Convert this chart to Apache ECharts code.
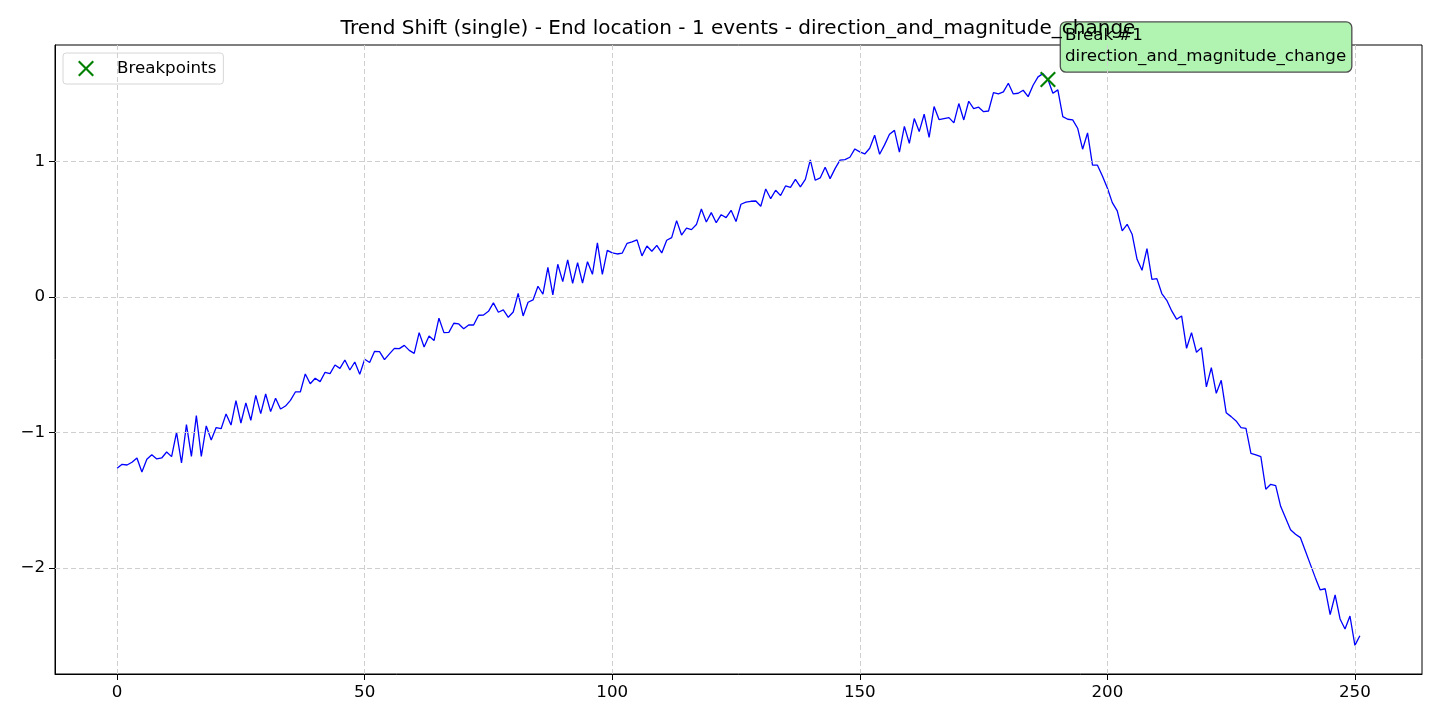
<!DOCTYPE html>
<html lang="en">
<head>
    <meta charset="UTF-8">
    <title>Trend Shift (single)</title>
    <script src="https://cdn.jsdelivr.net/npm/echarts/dist/echarts.min.js"></script>
    <style>
        html, body { margin: 0; padding: 0; background: #fff; }
        #chart { width: 1440px; height: 720px; }
    </style>
</head>
<body>
    <div id="chart"></div>

    <script type="text/javascript">
        // values, index = position on x axis
        var values = [
            -1.264, -1.235, -1.24, -1.22, -1.188, -1.292, -1.198, -1.164, -1.195, -1.188,
            -1.144, -1.178, -0.999, -1.225, -0.942, -1.176, -0.876, -1.176, -0.952, -1.055,
            -0.964, -0.972, -0.863, -0.945, -0.765, -0.93, -0.782, -0.91, -0.726, -0.861,
            -0.716, -0.846, -0.748, -0.827, -0.805, -0.763, -0.701, -0.701, -0.568, -0.64,
            -0.6, -0.625, -0.556, -0.566, -0.502, -0.527, -0.465, -0.539, -0.48, -0.571,
            -0.46, -0.484, -0.401, -0.403, -0.462, -0.42, -0.379, -0.381, -0.357, -0.394,
            -0.416, -0.263, -0.369, -0.288, -0.322, -0.157, -0.263, -0.261, -0.194, -0.199,
            -0.234, -0.207, -0.207, -0.135, -0.133, -0.106, -0.044, -0.113, -0.096, -0.15,
            -0.111, 0.027, -0.14, -0.039, -0.022, 0.079, 0.02, 0.219, 0.015, 0.241,
            0.113, 0.273, 0.101, 0.253, 0.103, 0.26, 0.167, 0.399, 0.167, 0.344,
            0.325, 0.317, 0.323, 0.396, 0.406, 0.421, 0.303, 0.376, 0.337, 0.381,
            0.325, 0.418, 0.438, 0.563, 0.457, 0.507, 0.497, 0.534, 0.649, 0.553,
            0.622, 0.548, 0.607, 0.585, 0.639, 0.556, 0.684, 0.699, 0.706, 0.708,
            0.669, 0.797, 0.725, 0.787, 0.748, 0.819, 0.809, 0.868, 0.812, 0.868,
            1.011, 0.861, 0.878, 0.957, 0.873, 0.947, 1.009, 1.013, 1.031, 1.092,
            1.07, 1.055, 1.097, 1.193, 1.053, 1.122, 1.2, 1.229, 1.069, 1.259,
            1.134, 1.316, 1.22, 1.348, 1.178, 1.405, 1.309, 1.316, 1.323, 1.284,
            1.427, 1.306, 1.444, 1.39, 1.4, 1.367, 1.372, 1.508, 1.498, 1.513,
            1.577, 1.498, 1.503, 1.525, 1.478, 1.562, 1.624, 1.648, 1.604, 1.503,
            1.528, 1.331, 1.311, 1.306, 1.245, 1.09, 1.21, 0.972, 0.972, 0.893,
            0.804, 0.696, 0.635, 0.487, 0.536, 0.463, 0.278, 0.197, 0.357, 0.13,
            0.135, 0.025, -0.025, -0.103, -0.165, -0.14, -0.379, -0.263, -0.408, -0.374,
            -0.664, -0.522, -0.711, -0.615, -0.854, -0.883, -0.915, -0.964, -0.969, -1.154,
            -1.166, -1.178, -1.419, -1.382, -1.392, -1.545, -1.631, -1.717, -1.751, -1.776,
            -1.875, -1.973, -2.071, -2.162, -2.153, -2.344, -2.199, -2.376, -2.45, -2.354,
            -2.571, -2.5
        ];
        var breakIdx = [188];
        var breakNames = ['Break #1'];
        var changeType = 'direction_and_magnitude_change';
        var xTicks = [0, 50, 100, 150, 200, 250];
        var yTicks = [-2, -1, 0, 1];

        var chart = echarts.init(document.getElementById('chart'));

        // matplotlib style 5% margins
        var lo = Math.min.apply(null, values), hi = Math.max.apply(null, values);
        var yPad = (hi - lo) * 0.05;
        var xLast = values.length - 1;

        var xPath = 'path://M0,1.5 L1.5,0 L8,6.5 L14.5,0 L16,1.5 L9.5,8 L16,14.5 L14.5,16 L8,9.5 L1.5,16 L0,14.5 L6.5,8 Z';
        var font = 'DejaVu Sans';
        var fs = 16.7;

        var gridLines = xTicks.map(function (v) { return { xAxis: v }; })
            .concat(yTicks.map(function (v) { return { yAxis: v }; }));

        var option = {
            animation: false,
            textStyle: { fontFamily: font },
            title: {
                text: 'Trend Shift (single) - End location - ' + breakIdx.length + ' events - ' + changeType,
                left: 733,
                textAlign: 'center',
                top: 14,
                z: 10,
                textStyle: { fontFamily: font, fontSize: 20, fontWeight: 'normal', color: '#000' }
            },
            legend: {
                data: [{ name: 'Breakpoints', icon: xPath }],
                left: 63,
                top: 53,
                orient: 'vertical',
                itemWidth: 16,
                itemHeight: 16,
                padding: [7, 7, 7, 15],
                borderColor: '#d6d6d6',
                borderWidth: 1,
                borderRadius: 3,
                textStyle: { fontFamily: font, fontSize: fs, color: '#000', padding: [0, 0, 0, 18] }
            },
            grid: {
                left: 55, right: 18, top: 45, bottom: 46,
                show: true, borderColor: '#000', borderWidth: 1
            },
            xAxis: {
                type: 'value',
                min: -0.05 * xLast,
                max: xLast * 1.05,
                axisLine: { show: true, onZero: false, lineStyle: { color: '#000', width: 1 } },
                axisTick: { show: true, customValues: xTicks, length: 6, lineStyle: { color: '#000' } },
                axisLabel: { customValues: xTicks, color: '#000', fontSize: fs, margin: 10, fontFamily: font },
                splitLine: { show: false }
            },
            yAxis: {
                type: 'value',
                min: lo - yPad,
                max: hi + yPad,
                axisLine: { show: true, onZero: false, lineStyle: { color: '#000', width: 1 } },
                axisTick: { show: true, customValues: yTicks, length: 6, lineStyle: { color: '#000' } },
                axisLabel: {
                    customValues: yTicks, color: '#000', fontSize: fs, margin: 10, fontFamily: font,
                    formatter: function (v) { return String(v).replace('-', '\u2212'); }
                },
                splitLine: { show: false }
            },
            series: [
                {
                    name: 'Series',
                    type: 'line',
                    data: values.map(function (v, i) { return [i, v]; }),
                    showSymbol: false,
                    symbol: 'none',
                    lineStyle: { color: '#0000ff', width: 1.3 },
                    z: 3,
                    markLine: {
                        silent: true,
                        symbol: 'none',
                        label: { show: false },
                        lineStyle: { color: '#cfcfcf', type: [5, 3], width: 1 },
                        data: gridLines
                    }
                },
                {
                    name: 'Breakpoints',
                    type: 'scatter',
                    symbol: xPath,
                    symbolSize: 16,
                    itemStyle: { color: '#008000', opacity: 1 },
                    z: 4,
                    data: breakIdx.map(function (b, k) { return { value: [b, values[b]], name: breakNames[k] }; }),
                    label: {
                        show: true,
                        position: [21, -49],
                        align: 'left',
                        formatter: function (p) { return p.name + '\n' + changeType; },
                        color: '#000',
                        fontFamily: font,
                        fontSize: fs,
                        lineHeight: 21,
                        backgroundColor: '#b1f3b1',
                        borderColor: '#4d4d4d',
                        borderWidth: 1.3,
                        borderRadius: 5,
                        padding: [3, 5, 4, 4]
                    }
                }
            ]
        };

        chart.setOption(option);
    </script>
</body>
</html>
